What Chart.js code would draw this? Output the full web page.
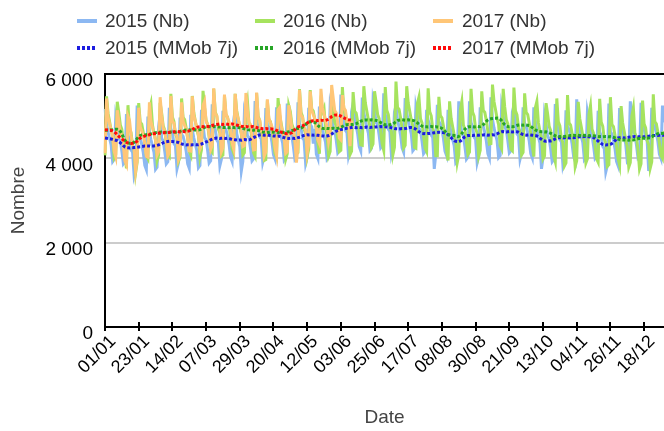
<!DOCTYPE html>
<html><head><meta charset="utf-8">
<script src="https://cdn.jsdelivr.net/npm/chart.js@4"></script>
<style>
html,body{margin:0;padding:0;background:#fff;}
#wrap{position:relative;width:664px;height:431px;overflow:hidden;}
canvas{position:absolute;left:0;top:0;}
.lg{position:absolute;font-family:'Liberation Sans',Arial,sans-serif;font-size:19px;color:#333;white-space:nowrap;line-height:22px;}
.sw{position:absolute;width:20px;height:4px;}
</style></head><body>
<div id="wrap"><canvas id="c" width="664" height="431"></canvas><div id="legend"></div></div>
<script>
// Day-by-day categories (leap-year calendar), ticks labelled every 22 days
const monthDays = [31,29,31,30,31,30,31,31,30,31,30,31];
const tickLabels = ["01/01","23/01","14/02","07/03","29/03","20/04","12/05","03/06","25/06","17/07","08/08","30/08","21/09","13/10","04/11","26/11","18/12"];
const seriesNames = ["2015 (Nb)","2016 (Nb)","2017 (Nb)","2015 (MMob 7j)","2016 (MMob 7j)","2017 (MMob 7j)"];

const nb2015 = [
5170,4820,4620,4470,4320,3920,3970, 4970,4770,4470,4420,4170,3870,3920, 5050,4550,4450,4200,4150,3600,3750, 5250,4530,4480,4330,4130,3830,3730,
4990,4640,4440,4290,4140,3740,3790, 4750,5050,4470,4420,4170,3870,3920, 5200,4700,4600,4350,4300,3750,3900, 4970,4570,4520,4370,4170,3870,3770,
5030,4680,4480,4330,4180,3780,3830, 5150,4790,4490,4440,4190,3890,3940, 5280,4780,4680,4430,4380,3830,3980, 5130,4730,4680,4530,4330,4030,3930,
4900,5150,4580,4430,4280,3700,3930, 5040,4840,4540,4490,4240,3940,3990, 5360,4860,4760,4510,4460,3910,4060, 5190,4790,4740,4590,4390,4090,3990,
5210,4860,4660,4510,4360,3960,4010, 5300,4880,4580,4530,4280,3980,4030, 5330,4830,4730,4480,4430,3880,4030, 5200,4800,4750,4350,4700,4100,4000,
5230,4880,4680,4530,4380,3980,4030, 5230,5030,4730,4680,4430,4130,4180, 5510,5010,4910,4660,4610,4060,4210, 5100,5300,4930,4780,4580,4280,4180,
5440,5090,4890,4740,4590,4190,4240, 5350,5150,4850,4800,4550,4250,4300, 5540,5040,4940,4690,4640,4090,4240, 5100,5250,4900,4750,4550,4250,4150,
5430,5080,4880,4730,4580,4180,4230, 5210,5010,4710,4660,4410,4110,4160, 5150,4900,4800,4550,4500,3750,4100, 5270,4870,4820,4670,4470,4170,4070,
5150,4800,4600,4450,4300,3900,3950, 5350,4880,4580,4530,4280,3980,4030, 5350,4850,4750,4500,4450,3900,4050, 5210,4810,4760,4610,4410,4110,4010,
5450,4920,4720,4570,4420,4020,4070, 5230,5030,4730,4680,4430,4130,4180, 5100,5250,4830,4580,4530,3980,4130, 5210,4810,4760,4610,4410,4110,4010,
5210,4860,4660,4510,4360,3750,4010, 5020,4820,4520,4470,4220,3920,3970, 5290,4790,4690,4440,4390,3840,3990, 5140,4740,4690,4540,4340,4040,3940,
5400,4870,4670,4520,4370,3970,4020, 5100,4900,4600,4550,4300,4000,4050, 5130,4630,4530,4280,4230,3680,3830, 5300,4630,4580,4430,4230,3930,3830,
5190,4840,4640,4490,4340,3940,3990, 5350,4920,4620,4570,4320,4020,4070, 5320,4820,4720,4470,4420,3700,4020, 5200,4800,4750,4600,4400,4100,4000,
5250,4850];

const nb2016 = [
4070,5470,5070,4870,4670,4520,4020, 4090,5340,5090,4790,4690,4390,4090, 3760,5260,4710,4610,4310,4210,3660, 3910,5310,4860,4810,4610,4360,4060,
3990,5150,5300,4790,4590,4440,3940, 4070,5320,5070,4770,4670,4370,4070, 4030,5530,4980,4880,4580,4480,3930, 4020,5420,4970,4920,4720,4470,4170,
4080,5480,5080,4880,4680,4530,4030, 4200,5600,5200,4900,4800,4500,4200, 4150,5650,5100,5000,4700,4600,4050, 4080,5480,5030,4980,4780,4530,4230,
4130,5530,5130,4930,4730,4580,4080, 4130,5150,5350,4830,4730,4430,4130, 4050,5550,5000,4900,4600,4500,3950, 3970,5370,4920,4870,4670,4420,4120,
4030,5430,5030,4830,4630,4480,3980, 4110,5250,5110,4810,4710,4410,4110, 4140,5640,5090,4990,4690,4590,4040, 4220,5620,5170,5120,4920,4670,4370,
4110,5250,5110,5200,4710,4560,4060, 4160,5410,5160,4860,4760,4460,4160, 4190,5690,5140,5040,4740,4640,4090, 4170,5570,5120,5070,4870,4620,4320,
4310,5710,5310,5110,4910,4760,4260, 4340,5590,5340,5040,4940,4640,4340, 4190,5690,5140,5040,4740,4640,4090, 4260,5820,5210,5160,4960,4710,4250,
4310,5710,5310,5110,4910,4760,4260, 4240,5300,5450,4940,4840,4540,4240, 4160,5660,5110,5010,4710,4610,4060, 4060,5460,5010,4960,4760,4510,4210,
3950,5350,4950,4750,4550,4400,3900, 4090,5150,5350,4790,4690,4390,4090, 4150,5650,5100,5000,4700,4600,4050, 4190,5590,5140,5090,4890,4640,4340,
4350,5750,5350,5150,4950,4800,4300, 4220,5650,5220,4920,4820,4520,4220, 4180,5680,5130,5030,4730,4630,4080, 4140,5540,5090,5040,4840,4590,4290,
4040,5200,5350,4840,4640,4490,3990, 4060,5310,5060,4760,4660,4360,4060, 3920,5420,4870,4770,4470,4370,3820, 3890,5500,4840,4790,4590,4340,3800,
3940,5340,4940,4740,4540,4390,3890, 3990,5050,5250,4690,4590,4290,3990, 3910,5410,4860,4760,4460,4360,3810, 3850,5450,4800,4750,4550,4300,4000,
3840,5240,4840,4640,4440,4290,3790, 3900,5000,5200,4600,4500,4200,3750, 3870,5370,4820,4720,4420,4320,3770, 3920,5520,4870,4820,4620,4370,4070,
4000,4650];

const nb2017 = [
4120,5420,4970,4820,4670,4520,4170, 4040,5140,4890,4590,4540,4290,3940, 3850,5000,4900,4550,4300,4250,3700, 3950,5200,4750,4650,4550,4350,4050,
4030,5330,4880,4730,4580,4430,4080, 4160,5450,5010,4710,4660,4410,4060, 4130,5480,4880,4830,4580,4530,3980, 4080,5330,4880,4780,4680,4480,4180,
4170,5470,5020,4870,4720,4570,4220, 4310,5250,5350,4860,4810,4560,4210, 4310,5660,5060,5010,4760,4710,4160, 4260,5510,5060,4960,4860,4660,4360,
4230,5530,5080,4930,4780,4630,4280, 4300,5550,5150,4850,4800,4550,4200, 4210,5560,4960,4910,4660,4610,4060, 4150,5400,4950,4850,4750,4550,4250,
4070,5150,5200,4770,4620,4470,4120, 4160,5260,5010,4710,4660,4410,3900, 4270,5620,5020,4970,4720,4670,4120, 4340,5590,5140,5040,4940,4740,4440,
4350,5650,5200,5050,4900,4750,4400, 4580,5740,5430,5130,5080,4830,4480, 4440,5500,5190,5140,4890,4840,4290,
4900];

const mm2015 = [
4480,4475,4470,4465,4460,4450,4440, 4430,4420,4400,4370,4340,4300,4270, 4255,4250,4245,4250,4250,4255,4260, 4265,4270,4275,4280,4285,4290,4290,
4290,4295,4290,4290,4295,4300,4310, 4320,4335,4350,4370,4385,4395,4400, 4405,4400,4400,4395,4390,4385,4375, 4360,4345,4330,4320,4315,4320,4320,
4315,4320,4320,4325,4320,4320,4330, 4340,4355,4370,4390,4400,4420,4440, 4455,4470,4475,4480,4475,4470,4475, 4480,4475,4470,4475,4470,4460,4450,
4445,4440,4435,4430,4435,4430,4440, 4445,4440,4435,4440,4450,4470,4490, 4510,4530,4545,4555,4560,4555,4550, 4555,4550,4545,4540,4535,4530,4530,
4525,4530,4520,4510,4500,4490,4480, 4475,4470,4475,4480,4475,4470,4480, 4490,4500,4515,4530,4545,4555,4560, 4555,4560,4555,4550,4555,4550,4545,
4540,4535,4530,4530,4525,4530,4540, 4555,4575,4600,4625,4645,4660,4670, 4680,4690,4700,4705,4715,4720,4725, 4730,4735,4730,4725,4730,4735,4730,
4725,4730,4735,4740,4735,4730,4735, 4740,4745,4745,4750,4750,4755,4750,
4750,4750,4745,4740,4735,4725,4715, 4705,4700,4700,4695,4700,4705,4700, 4705,4715,4725,4730,4730,4725,4710, 4690,4660,4630,4605,4590,4585,4590,
4585,4590,4590,4595,4600,4605,4610, 4615,4620,4620,4615,4610,4600,4585, 4560,4530,4490,4450,4420,4405,4400, 4400,4410,4440,4480,4510,4530,4540,
4540,4545,4540,4545,4550,4545,4550, 4555,4550,4555,4560,4555,4550,4555, 4555,4560,4555,4565,4580,4600,4620, 4630,4635,4630,4625,4630,4635,4630,
4625,4630,4635,4630,4620,4600,4580, 4565,4555,4550,4555,4560,4555,4550, 4545,4540,4530,4510,4480,4450,4425, 4410,4405,4410,4415,4410,4420,4440,
4460,4475,4485,4490,4490,4485,4490, 4495,4490,4485,4490,4495,4490,4495, 4500,4505,4510,4515,4510,4515,4520, 4515,4510,4505,4500,4490,4470,4440,
4410,4380,4350,4330,4320,4315,4320, 4320,4330,4350,4380,4420,4460,4485, 4490,4495,4490,4485,4490,4495,4500, 4505,4510,4515,4520,4515,4510,4515,
4520,4515,4510,4515,4520,4525,4530, 4535,4540,4540,4545,4540,4545,4550, 4545,4550];

const mm2016 = [
4660,4665,4670,4670,4675,4680,4685, 4690,4690,4680,4640,4580,4500,4430, 4390,4365,4355,4355,4360,4380,4420, 4470,4510,4540,4555,4560,4555,4560,
4565,4570,4580,4590,4600,4610,4615, 4620,4620,4625,4620,4615,4620,4625, 4620,4625,4630,4625,4620,4625,4630, 4640,4650,4660,4665,4670,4670,4675,
4670,4665,4670,4675,4670,4670,4680, 4695,4715,4735,4745,4750,4755,4750, 4745,4750,4755,4750,4745,4740,4735, 4730,4730,4735,4730,4725,4730,4735,
4730,4725,4730,4730,4725,4720,4710, 4700,4690,4680,4675,4670,4670,4665, 4670,4665,4660,4650,4635,4625,4620, 4615,4620,4615,4620,4625,4620,4615,
4620,4615,4620,4625,4620,4615,4620, 4625,4630,4640,4655,4670,4690,4700, 4710,4715,4720,4740,4770,4800,4840, 4860,4870,4870,4865,4850,4820,4780,
4750,4725,4710,4705,4710,4705,4710, 4705,4710,4715,4710,4705,4710,4720, 4735,4755,4775,4790,4800,4805,4800, 4800,4805,4810,4820,4840,4860,4880,
4895,4905,4910,4910,4905,4910,4915, 4910,4905,4900,4890,4870,4850,4830, 4810,4795,4790,4790,4795,4800,4815, 4840,4870,4895,4905,4910,4915,4910,
4905,4910,4915,4910,4905,4900,4890, 4870,4840,4810,4785,4765,4755,4750, 4750,4745,4750,4755,4750,4745,4750, 4745,4740,4730,4710,4680,4640,4600,
4570,4555,4550,4545,4540,4525,4515, 4520,4545,4590,4640,4690,4725,4745, 4750,4755,4750,4745,4750,4755,4750, 4755,4770,4800,4840,4880,4910,4930,
4940,4945,4950,4950,4955,4950,4930, 4890,4840,4800,4770,4755,4750,4755, 4750,4755,4765,4780,4790,4795,4790, 4785,4790,4790,4785,4780,4760,4730,
4700,4675,4655,4640,4635,4630,4630, 4625,4630,4620,4610,4595,4575,4555, 4535,4520,4515,4515,4520,4515,4520, 4525,4530,4535,4540,4540,4545,4540,
4540,4545,4540,4535,4540,4545,4540, 4545,4540,4535,4540,4535,4530,4525, 4520,4515,4515,4510,4515,4520,4515, 4510,4515,4510,4500,4485,4470,4455,
4445,4440,4435,4435,4440,4435,4430, 4435,4440,4435,4445,4455,4465,4470, 4475,4480,4475,4470,4475,4480,4490, 4510,4530,4550,4570,4585,4590,4595,
4590,4590];

const mm2017 = [
4680,4675,4670,4665,4660,4650,4630, 4600,4560,4520,4490,4460,4430,4400, 4380,4365,4355,4350,4355,4360,4380, 4410,4450,4480,4500,4515,4525,4540,
4550,4560,4570,4580,4585,4590,4595, 4600,4595,4600,4605,4610,4605,4610, 4615,4620,4625,4630,4630,4635,4630, 4625,4630,4635,4630,4635,4640,4650,
4665,4685,4705,4720,4735,4745,4750, 4755,4750,4755,4760,4755,4760,4770, 4780,4790,4800,4805,4810,4815,4810, 4805,4810,4815,4810,4805,4810,4815,
4810,4800,4790,4780,4770,4760,4755, 4750,4755,4750,4745,4750,4755,4750, 4740,4730,4720,4710,4705,4700,4700, 4705,4700,4695,4700,4695,4690,4680,
4665,4650,4635,4620,4605,4595,4590, 4585,4590,4595,4610,4640,4680,4720, 4745,4755,4760,4770,4790,4815,4840, 4860,4875,4885,4890,4895,4890,4895,
4900,4905,4900,4895,4900,4910,4930, 4960,4990,5010,5025,5030,5030,5020, 5000,4980,4960,4940,4925,4915,4910,
4905];

// ---- build categories ----
const labels = [];
monthDays.forEach((n, m) => { for (let d = 1; d <= n; d++) labels.push(String(d).padStart(2,'0') + '/' + String(m+1).padStart(2,'0')); });
const TICK_EVERY = 22;

const colors = ['#8cb8f2','#a6e35e','#ffc677','#1c1ce0','#26a526','#ff0a0a'];
const FONT = "'Liberation Sans', Arial, sans-serif";
Chart.defaults.font.family = FONT;

// ---- HTML legend ----
const lg = document.getElementById('legend');
const colSw = [77, 255, 433], colTx = [105, 283, 462], rowY = [21, 48];
seriesNames.forEach((name, i) => {
  const col = i % 3, row = Math.floor(i / 3);
  const sw = document.createElement('div');
  sw.className = 'sw';
  sw.style.left = colSw[col] + 'px';
  sw.style.top = (rowY[row] - 2) + 'px';
  sw.style.background = row === 0 ? colors[i] : `repeating-linear-gradient(90deg, ${colors[i]} 0 3px, transparent 3px 5px)`;
  lg.appendChild(sw);
  const t = document.createElement('div');
  t.className = 'lg';
  t.textContent = name;
  t.style.left = colTx[col] + 'px';
  t.style.top = (rowY[row] - 11) + 'px';
  lg.appendChild(t);
});

const xTicksPlugin = {
  id: 'xTicks',
  afterDraw(chart) {
    const s = chart.scales.x, c = chart.ctx;
    c.save(); c.strokeStyle = '#000'; c.lineWidth = 2;
    for (let i = 0; i < labels.length; i += TICK_EVERY) {
      const x = Math.round(s.getPixelForValue(i));
      c.beginPath(); c.moveTo(x, s.top - 5); c.lineTo(x, s.top + 4); c.stroke();
    }
    c.restore();
  }
};

const nbStyle = (i) => ({ borderColor: colors[i], borderWidth: 3 });
const mmStyle = (i) => ({ borderColor: colors[i], borderWidth: 3, borderDash: [3, 2] });

new Chart(document.getElementById('c'), {
  type: 'line',
  data: {
    labels,
    datasets: [
      { label: seriesNames[5], data: mm2017, ...mmStyle(5), order: 1 },
      { label: seriesNames[4], data: mm2016, ...mmStyle(4), order: 2 },
      { label: seriesNames[3], data: mm2015, ...mmStyle(3), order: 3 },
      { label: seriesNames[2], data: nb2017, ...nbStyle(2), order: 4 },
      { label: seriesNames[1], data: nb2016, ...nbStyle(1), order: 5 },
      { label: seriesNames[0], data: nb2015, ...nbStyle(0), order: 6 }
    ]
  },
  options: {
    responsive: false,
    animation: false,
    layout: { padding: { top: 74, left: 0, right: 0, bottom: 0 } },
    plugins: { legend: { display: false }, tooltip: { enabled: false } },
    elements: { point: { radius: 0 }, line: { tension: 0 } },
    scales: {
      x: {
        ticks: {
          autoSkip: false, minRotation: 45, maxRotation: 45, color: '#000',
          font: { size: 18 }, padding: 4, labelOffset: 8,
          callback: (v, i) => (i % TICK_EVERY === 0 ? labels[i] : '')
        },
        grid: { display: false, drawTicks: false },
        border: { color: '#000', width: 2 },
        title: { display: true, text: 'Date', color: '#444', font: { size: 19 }, padding: { top: 0, bottom: 2 } },
        afterFit: (s) => { s.height = 104; s.paddingLeft = 0; s.paddingRight = 0; }
      },
      y: {
        min: 0, max: 6000,
        ticks: {
          stepSize: 2000, color: '#000', font: { size: 19 }, padding: 12, labelOffset: 7,
          callback: (v) => (v === 0 ? '0' : (v / 1000) + '\u00a0000')
        },
        grid: {
          drawTicks: false, lineWidth: 2,
          color: (c) => (c.tick && c.tick.value === 6000 ? '#000' : (c.tick && c.tick.value === 0 ? 'rgba(0,0,0,0)' : '#cccccc'))
        },
        border: { color: '#000', width: 2 },
        title: { display: true, text: 'Nombre', color: '#444', font: { size: 19 }, padding: { top: 7, bottom: 0 } },
        afterFit: (s) => { s.width = 105; s.paddingTop = 0; s.paddingBottom = 0; }
      }
    }
  },
  plugins: [xTicksPlugin]
});
</script>
</body></html>
